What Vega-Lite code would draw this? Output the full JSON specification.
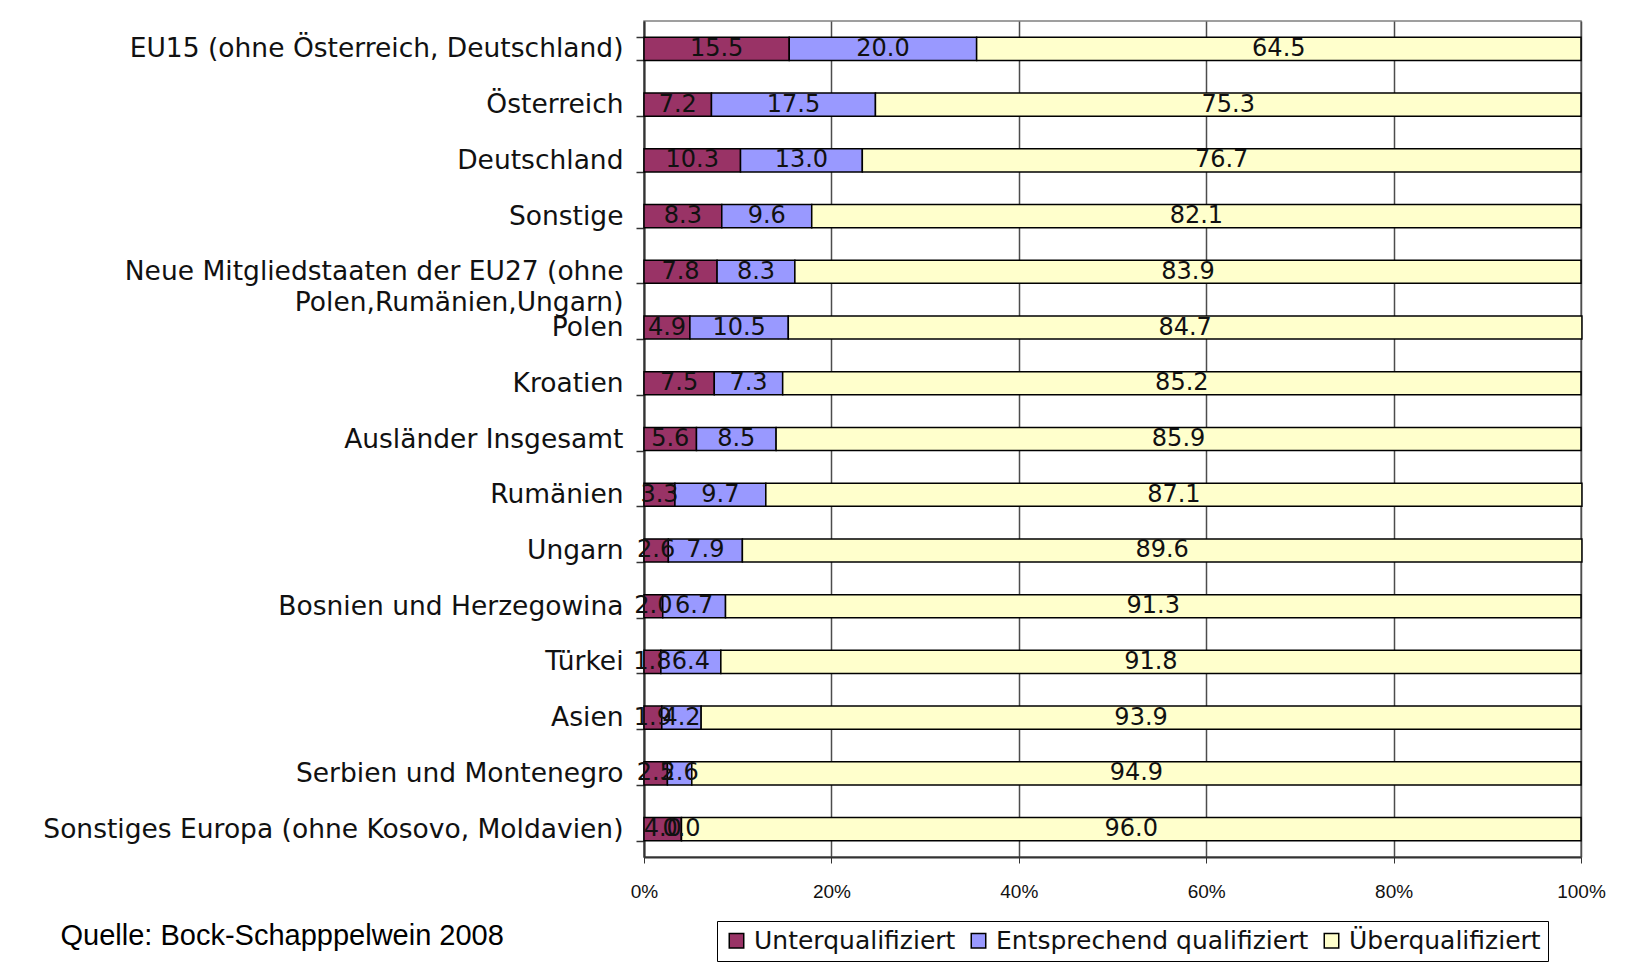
{
  "$schema": "https://vega.github.io/schema/vega-lite/v6.json",
  "autosize": {"type": "none"},
  "padding": {"left": 644, "top": 21, "right": 61, "bottom": 116},
  "width": 937,
  "height": 836,
  "background": "white",
  "config": {
    "view": {"stroke": "#808080", "strokeWidth": 1.5},
    "font": "DejaVu Sans"
  },
  "data": {
    "values": [
      {"land": "EU15 (ohne Österreich, Deutschland)", "kat": "Unterqualifiziert", "ord": 1, "wert": 15.5},
      {"land": "EU15 (ohne Österreich, Deutschland)", "kat": "Entsprechend qualifiziert", "ord": 2, "wert": 20.0},
      {"land": "EU15 (ohne Österreich, Deutschland)", "kat": "Überqualifiziert", "ord": 3, "wert": 64.5},
      {"land": "Österreich", "kat": "Unterqualifiziert", "ord": 1, "wert": 7.2},
      {"land": "Österreich", "kat": "Entsprechend qualifiziert", "ord": 2, "wert": 17.5},
      {"land": "Österreich", "kat": "Überqualifiziert", "ord": 3, "wert": 75.3},
      {"land": "Deutschland", "kat": "Unterqualifiziert", "ord": 1, "wert": 10.3},
      {"land": "Deutschland", "kat": "Entsprechend qualifiziert", "ord": 2, "wert": 13.0},
      {"land": "Deutschland", "kat": "Überqualifiziert", "ord": 3, "wert": 76.7},
      {"land": "Sonstige", "kat": "Unterqualifiziert", "ord": 1, "wert": 8.3},
      {"land": "Sonstige", "kat": "Entsprechend qualifiziert", "ord": 2, "wert": 9.6},
      {"land": "Sonstige", "kat": "Überqualifiziert", "ord": 3, "wert": 82.1},
      {"land": "Neue Mitgliedstaaten der EU27 (ohne|Polen,Rumänien,Ungarn)", "kat": "Unterqualifiziert", "ord": 1, "wert": 7.8},
      {"land": "Neue Mitgliedstaaten der EU27 (ohne|Polen,Rumänien,Ungarn)", "kat": "Entsprechend qualifiziert", "ord": 2, "wert": 8.3},
      {"land": "Neue Mitgliedstaaten der EU27 (ohne|Polen,Rumänien,Ungarn)", "kat": "Überqualifiziert", "ord": 3, "wert": 83.9},
      {"land": "Polen", "kat": "Unterqualifiziert", "ord": 1, "wert": 4.9},
      {"land": "Polen", "kat": "Entsprechend qualifiziert", "ord": 2, "wert": 10.5},
      {"land": "Polen", "kat": "Überqualifiziert", "ord": 3, "wert": 84.7},
      {"land": "Kroatien", "kat": "Unterqualifiziert", "ord": 1, "wert": 7.5},
      {"land": "Kroatien", "kat": "Entsprechend qualifiziert", "ord": 2, "wert": 7.3},
      {"land": "Kroatien", "kat": "Überqualifiziert", "ord": 3, "wert": 85.2},
      {"land": "Ausländer Insgesamt", "kat": "Unterqualifiziert", "ord": 1, "wert": 5.6},
      {"land": "Ausländer Insgesamt", "kat": "Entsprechend qualifiziert", "ord": 2, "wert": 8.5},
      {"land": "Ausländer Insgesamt", "kat": "Überqualifiziert", "ord": 3, "wert": 85.9},
      {"land": "Rumänien", "kat": "Unterqualifiziert", "ord": 1, "wert": 3.3},
      {"land": "Rumänien", "kat": "Entsprechend qualifiziert", "ord": 2, "wert": 9.7},
      {"land": "Rumänien", "kat": "Überqualifiziert", "ord": 3, "wert": 87.1},
      {"land": "Ungarn", "kat": "Unterqualifiziert", "ord": 1, "wert": 2.6},
      {"land": "Ungarn", "kat": "Entsprechend qualifiziert", "ord": 2, "wert": 7.9},
      {"land": "Ungarn", "kat": "Überqualifiziert", "ord": 3, "wert": 89.6},
      {"land": "Bosnien und Herzegowina", "kat": "Unterqualifiziert", "ord": 1, "wert": 2.0},
      {"land": "Bosnien und Herzegowina", "kat": "Entsprechend qualifiziert", "ord": 2, "wert": 6.7},
      {"land": "Bosnien und Herzegowina", "kat": "Überqualifiziert", "ord": 3, "wert": 91.3},
      {"land": "Türkei", "kat": "Unterqualifiziert", "ord": 1, "wert": 1.8},
      {"land": "Türkei", "kat": "Entsprechend qualifiziert", "ord": 2, "wert": 6.4},
      {"land": "Türkei", "kat": "Überqualifiziert", "ord": 3, "wert": 91.8},
      {"land": "Asien", "kat": "Unterqualifiziert", "ord": 1, "wert": 1.9},
      {"land": "Asien", "kat": "Entsprechend qualifiziert", "ord": 2, "wert": 4.2},
      {"land": "Asien", "kat": "Überqualifiziert", "ord": 3, "wert": 93.9},
      {"land": "Serbien und Montenegro", "kat": "Unterqualifiziert", "ord": 1, "wert": 2.5},
      {"land": "Serbien und Montenegro", "kat": "Entsprechend qualifiziert", "ord": 2, "wert": 2.6},
      {"land": "Serbien und Montenegro", "kat": "Überqualifiziert", "ord": 3, "wert": 94.9},
      {"land": "Sonstiges Europa (ohne Kosovo, Moldavien)", "kat": "Unterqualifiziert", "ord": 1, "wert": 4.0},
      {"land": "Sonstiges Europa (ohne Kosovo, Moldavien)", "kat": "Entsprechend qualifiziert", "ord": 2, "wert": 0.0},
      {"land": "Sonstiges Europa (ohne Kosovo, Moldavien)", "kat": "Überqualifiziert", "ord": 3, "wert": 96.0}
    ]
  },
  "transform": [
    {"stack": "wert", "groupby": ["land"], "sort": [{"field": "ord", "order": "ascending"}], "as": ["v0", "v1"]}
  ],
  "encoding": {
    "y": {
      "field": "land",
      "type": "nominal",
      "sort": null,
      "scale": {"paddingInner": 0.585, "paddingOuter": 0.2925},
      "axis": {
        "title": null,
        "labelExpr": "split(datum.label, '|')",
        "labelFont": "DejaVu Sans",
        "labelFontSize": 26.5,
        "labelColor": "#111",
        "labelLineHeight": 31,
        "labelLimit": 700,
        "labelPadding": 13,
        "tickBand": "extent",
        "tickSize": 8,
        "tickColor": "#333",
        "tickWidth": 1.5,
        "domainColor": "#333",
        "domainWidth": 2
      }
    },
    "x": {
      "field": "v0",
      "type": "quantitative",
      "scale": {"domain": [0, 100], "nice": false},
      "axis": {
        "values": [0, 20, 40, 60, 80, 100],
        "labelExpr": "datum.value + '%'",
        "labelFont": "Liberation Sans",
        "labelFontSize": 19,
        "labelFlush": false,
        "labelColor": "#111",
        "labelPadding": 19,
        "tickSize": 6,
        "tickColor": "#333",
        "domainColor": "#333",
        "domainWidth": 2,
        "grid": true,
        "gridColor": "#4d4d4d",
        "gridWidth": 1.5,
        "title": "Quelle: Bock-Schapppelwein 2008",
        "titleFont": "Liberation Sans",
        "titleFontSize": 29,
        "titleFontWeight": "normal",
        "titleColor": "#000",
        "titleAnchor": "start",
        "titleAlign": "left",
        "titleBaseline": "middle",
        "titleX": -584,
        "titleY": 78
      }
    }
  },
  "layer": [
    {
      "mark": {"type": "bar", "stroke": "#000", "strokeWidth": 1.5},
      "encoding": {
        "x2": {"field": "v1"},
        "color": {
          "field": "kat",
          "type": "nominal",
          "scale": {
            "domain": ["Unterqualifiziert", "Entsprechend qualifiziert", "Überqualifiziert"],
            "range": ["#993366", "#9999ff", "#ffffcc"]
          },
          "legend": {
            "title": null,
            "orient": "none",
            "direction": "horizontal",
            "legendX": 73,
            "legendY": 900,
            "strokeColor": "#000",
            "fillColor": "#fff",
            "padding": 7,
            "symbolType": "square",
            "symbolSize": 210,
            "symbolStrokeColor": "#000",
            "symbolStrokeWidth": 1.5,
            "labelFont": "DejaVu Sans",
            "labelFontSize": 25,
            "labelColor": "#111",
            "labelOffset": 5,
            "columnPadding": 10,
            "labelLimit": 400
          }
        }
      }
    },
    {
      "transform": [
        {"fold": ["v0", "v1"], "as": ["ende", "pos"]}
      ],
      "mark": {"type": "text", "font": "DejaVu Sans", "fontSize": 24, "color": "#111", "baseline": "middle", "align": "center"},
      "encoding": {
        "x": {"field": "pos", "aggregate": "mean", "type": "quantitative"},
        "detail": {"field": "kat", "type": "nominal"},
        "text": {"field": "wert", "type": "quantitative", "format": ".1f"}
      }
    }
  ]
}
